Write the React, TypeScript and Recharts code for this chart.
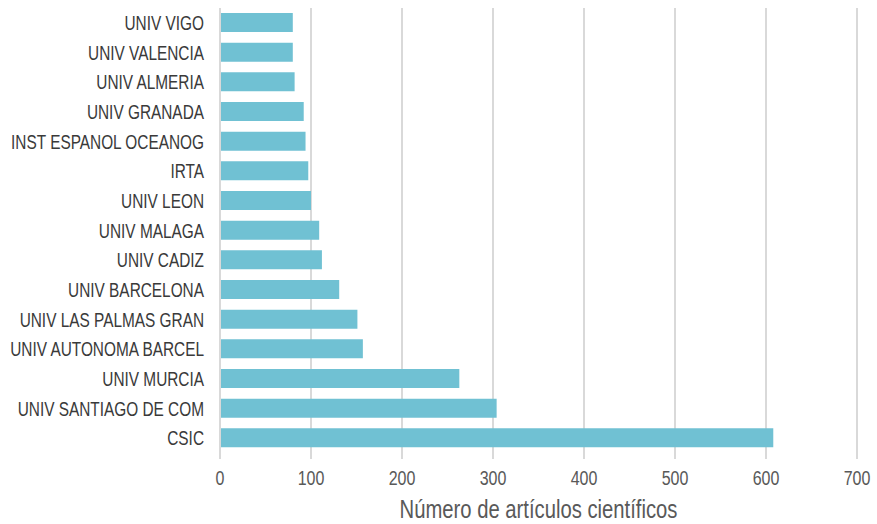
import { BarChart, Bar, XAxis, YAxis, CartesianGrid, Label } from "recharts";

// Institutions, top to bottom
const institutions = [
    "UNIV VIGO",
    "UNIV VALENCIA",
    "UNIV ALMERIA",
    "UNIV GRANADA",
    "INST ESPANOL OCEANOG",
    "IRTA",
    "UNIV LEON",
    "UNIV MALAGA",
    "UNIV CADIZ",
    "UNIV BARCELONA",
    "UNIV LAS PALMAS GRAN",
    "UNIV AUTONOMA BARCEL",
    "UNIV MURCIA",
    "UNIV SANTIAGO DE COM",
    "CSIC",
];

const articles = [80, 80, 82, 92, 94, 97, 100, 109, 112, 131, 151, 157, 263, 304, 608];

const xTicks = [0, 100, 200, 300, 400, 500, 600, 700];

const data = institutions.map((name, i) => ({ name, value: articles[i] }));

const FONT = '"Liberation Sans", Arial, sans-serif';
const GRID = "#d9d9d9";

// the sans face squeezed horizontally, for a condensed look
function CondensedText({ x, y, text, anchor, size, fill, dy, squeeze }: any) {
    return (
        <g transform={`translate(${x},${y})`}>
            <text
                transform={`scale(${squeeze},1)`}
                textAnchor={anchor}
                fontFamily={FONT}
                fontSize={size}
                fill={fill}
                dy={dy}
            >
                {text}
            </text>
        </g>
    );
}

function YTick({ x, y, payload }: any) {
    return (
        <CondensedText x={x} y={y} text={payload.value} anchor="end" size={20} fill="#3a3a3a" dy="0.36em" squeeze={0.77} />
    );
}

function XTick({ x, y, payload }: any) {
    return (
        <CondensedText x={x} y={y} text={payload.value} anchor="middle" size={20} fill="#595959" dy={18} squeeze={0.8} />
    );
}

function AxisTitle({ viewBox }: any) {
    const { x, y, width, height } = viewBox;
    return (
        <CondensedText
            x={x + width / 2}
            y={y + height - 6}
            text="Número de artículos científicos"
            anchor="middle"
            size={25}
            fill="#595959"
            dy={0}
            squeeze={0.81}
        />
    );
}

export default function App() {
    return (
        <div style={{ width: 877, height: 524 }}>
            <style>{"body{margin:0}"}</style>
            <BarChart
                width={877}
                height={524}
                data={data}
                layout="vertical"
                margin={{ top: 8, right: 20, bottom: 0, left: 0 }}
            >
                <CartesianGrid horizontal={false} stroke={GRID} strokeWidth={2} />
                <XAxis
                    type="number"
                    domain={[0, 700]}
                    ticks={xTicks}
                    height={71}
                    axisLine={false}
                    tickLine={{ stroke: GRID, strokeWidth: 2 }}
                    tickSize={6}
                    tickMargin={8}
                    tick={<XTick />}
                >
                    <Label content={<AxisTitle />} />
                </XAxis>
                <YAxis
                    type="category"
                    dataKey="name"
                    width={220}
                    axisLine={{ stroke: GRID, strokeWidth: 2 }}
                    tickLine={false}
                    tickSize={6}
                    tickMargin={10}
                    interval={0}
                    tick={<YTick />}
                />
                <Bar dataKey="value" fill="#70c1d3" barSize={19} isAnimationActive={false} />
            </BarChart>
        </div>
    );
}
